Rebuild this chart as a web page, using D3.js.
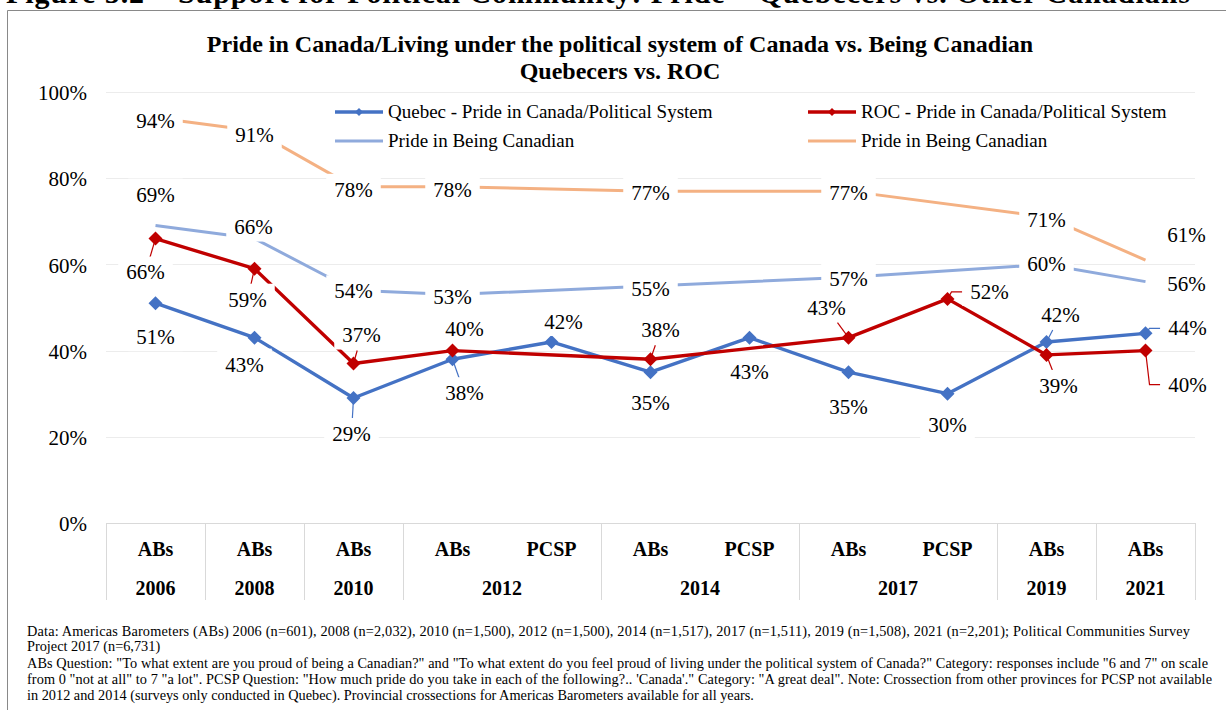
<!DOCTYPE html>
<html>
<head>
<meta charset="utf-8">
<script src="https://cdn.jsdelivr.net/npm/d3@7"></script>
<style>
  html, body { margin: 0; padding: 0; background: #fff; }
  svg { display: block; }
</style>
</head>
<body>
<svg id="chart" width="1226" height="710"></svg>
<script>
// ---- data -------------------------------------------------------------
const surveys = ["ABs", "ABs", "ABs", "ABs", "PCSP", "ABs", "PCSP", "ABs", "PCSP", "ABs", "ABs"];
const years   = ["2006", "2008", "2010", "2012", "2012", "2014", "2014", "2017", "2017", "2019", "2021"];

const quebecPolitical = [51, 43, 29, 38, 42, 35, 43, 35, 30, 42, 44];
const rocPolitical    = [66, 59, 37, 40, null, 38, null, 43, 52, 39, 40];
const quebecBeing     = [69, 66, 54, 53, null, 55, null, 57, null, 60, 56];
const rocBeing        = [94, 91, 78, 78, null, 77, null, 77, null, 71, 61];

const yTicks = [0, 20, 40, 60, 80, 100];

const seriesNames = [
  "Quebec - Pride in Canada/Political System",
  "ROC - Pride in Canada/Political System",
  "Pride in Being Canadian",
  "Pride in Being Canadian"
];

const chartTitle = [
  "Pride in Canada/Living under the political system of Canada vs. Being Canadian",
  "Quebecers vs. ROC"
];
const figureTitle = "Figure 5.2 \u2013 Support for Political Community: Pride \u2013 Quebecers vs. Other Canadians";

const notes = [
  "Data: Americas Barometers (ABs) 2006 (n=601), 2008 (n=2,032), 2010 (n=1,500), 2012 (n=1,500), 2014 (n=1,517), 2017 (n=1,511), 2019 (n=1,508), 2021 (n=2,201); Political Communities Survey",
  "Project 2017 (n=6,731)",
  "ABs Question: \"To what extent are you proud of being a Canadian?\" and \"To what extent do you feel proud of living under the political system of Canada?\" Category: responses include \"6 and 7\" on scale",
  "from 0 \"not at all\" to 7 \"a lot\". PCSP Question: \"How much pride do you take in each of the following?.. 'Canada'.\" Category: \"A great deal\". Note: Crossection from other provinces for PCSP not available",
  "in 2012 and 2014 (surveys only conducted in Quebec). Provincial crossections for Americas Barometers available for all years."
];

// ---- label placement: [dx, dy, leader?] relative to the point ---------
const qcPolLabelPos   = [[0,34],[-10,27],[-2,36,1],[12,34,1],[12,-20],[0,31],[0,34],[0,35],[0,31],[14,-27,1],[42,-5,1]];
const rocPolLabelPos  = [[-10,34,1],[-7,31,1],[8,-28,1],[12,-22],null,[10,-29,1],null,[-22,-30,1],[42,-7,1],[12,31,1],[42,34,1]];
const qcBeingLabelPos = [[0,-31],[-1,-11],[0,1],[0,2],null,[0,3],null,[0,2],null,[0,0],[41,2]];
const rocBeingLabelPos= [[0,3],[0,4],[0,3],[0,3],null,[0,2],null,[0,2],null,[0,3],[41,-25]];

// ---- setup --------------------------------------------------------------
const FONT = "'Liberation Serif', 'Times New Roman', serif";
const svg = d3.select("#chart");

const x = d3.scaleBand().domain(d3.range(surveys.length)).range([106, 1195]).padding(0);
const y = d3.scaleLinear().domain([0, 100]).range([523, 92]);
const cx = i => x(i) + x.bandwidth() / 2;

// figure heading (partly above the page edge)
svg.append("text")
  .attr("x", 6).attr("y", 3)
  .attr("font-family", FONT).attr("font-weight", "bold").attr("font-size", 30)
  .attr("textLength", 1184).attr("lengthAdjust", "spacing")
  .text(figureTitle);

// chart frame
svg.append("path")
  .attr("d", "M7.5,720 V10.5 H1240")
  .attr("fill", "none").attr("stroke", "#898989").attr("stroke-width", 1);

// chart title
svg.append("g").selectAll("text").data(chartTitle).join("text")
  .attr("x", 620).attr("y", (d, i) => 52 + i * 27)
  .attr("text-anchor", "middle")
  .attr("font-family", FONT).attr("font-weight", "bold").attr("font-size", 24)
  .text(d => d);

// gridlines
svg.append("g").selectAll("line").data(yTicks.filter(t => t > 0)).join("line")
  .attr("x1", 106).attr("x2", 1195)
  .attr("y1", d => Math.round(y(d)) + 0.5).attr("y2", d => Math.round(y(d)) + 0.5)
  .attr("stroke", "#ececec").attr("stroke-width", 1);

// y axis
const yAxis = d3.axisLeft(y).tickValues(yTicks).tickFormat(d => d + "%").tickSize(0).tickPadding(0);
const yG = svg.append("g").attr("transform", "translate(87,1)").call(yAxis);
yG.select(".domain").remove();
yG.selectAll("text").attr("font-family", FONT).attr("font-size", 21).attr("fill", "#000");

// category axis table
const axisColor = "#d9d9d9";
const axisG = svg.append("g");
axisG.append("line").attr("x1", 106).attr("x2", 1195).attr("y1", 523.5).attr("y2", 523.5)
  .attr("stroke", axisColor);
// group boundaries between different years
const boundaries = [0];
years.forEach((yr, i) => { if (i > 0 && yr !== years[i - 1]) boundaries.push(i); });
boundaries.push(years.length);
const edge = d => (d < years.length ? x(d) : x.range()[1]);
axisG.selectAll("line.div").data(boundaries).join("line").attr("class", "div")
  .attr("x1", d => Math.round(edge(d)) + 0.5)
  .attr("x2", d => Math.round(edge(d)) + 0.5)
  .attr("y1", 523).attr("y2", 600)
  .attr("stroke", axisColor);
axisG.selectAll("text.survey").data(surveys).join("text").attr("class", "survey")
  .attr("x", (d, i) => cx(i)).attr("y", 556)
  .attr("text-anchor", "middle").attr("font-family", FONT).attr("font-weight", "bold").attr("font-size", 20)
  .text(d => d);
const groups = boundaries.slice(0, -1).map((b, k) => ({ year: years[b], from: b, to: boundaries[k + 1] }));
axisG.selectAll("text.year").data(groups).join("text").attr("class", "year")
  .attr("x", g => (edge(g.from) + edge(g.to)) / 2).attr("y", 595)
  .attr("text-anchor", "middle").attr("font-family", FONT).attr("font-weight", "bold").attr("font-size", 20)
  .text(g => g.year);

// ---- series ------------------------------------------------------------
const series = [
  { values: quebecPolitical, color: "#4472C4", width: 3.4, marker: true,  labels: qcPolLabelPos },
  { values: rocPolitical,    color: "#C00000", width: 3.4, marker: true,  labels: rocPolLabelPos },
  { values: quebecBeing,     color: "#8FAADC", width: 3,   marker: false, labels: qcBeingLabelPos },
  { values: rocBeing,        color: "#F4B183", width: 3,   marker: false, labels: rocBeingLabelPos }
];
series.forEach((s, k) => { s.name = seriesNames[k]; });

const pts = s => s.values.map((v, i) => ({ i, v, lab: s.labels[i] })).filter(d => d.v !== null);

const line = d3.line().x(d => cx(d.i)).y(d => y(d.v));
const diamond = d3.symbol().type(d3.symbolSquare).size(98);

const linesG = svg.append("g");
series.forEach(s => {
  linesG.append("path").datum(pts(s))
    .attr("d", line).attr("fill", "none")
    .attr("stroke", s.color).attr("stroke-width", s.width)
    .attr("stroke-linejoin", "round");
});

// labels: measure text, then leaders, markers, boxes and text
const LABEL_FS = 21, HALF_H = 15;
const labelItems = [];
series.forEach(s => {
  pts(s).forEach(d => {
    const px = cx(d.i), py = y(d.v);
    labelItems.push({ s, px, py, lx: px + d.lab[0], ly: py + d.lab[1], leader: !!d.lab[2], text: d.v + "%" });
  });
});
const measure = svg.append("text").attr("font-family", FONT).attr("font-size", LABEL_FS);
labelItems.forEach(L => { measure.text(L.text); L.hw = measure.node().getComputedTextLength() / 2 + 8; });
measure.remove();

const leaderG = svg.append("g");
labelItems.filter(L => L.leader).forEach(L => {
  const dx = L.px - L.lx, dy = L.py - L.ly;
  let ptsL;
  if (Math.abs(dx) > L.hw) {
    const sgn = Math.sign(L.lx - L.px);
    ptsL = [[L.px, L.py], [L.px + sgn * 4, L.ly], [L.lx - sgn * L.hw, L.ly]];
  } else {
    const t = Math.min(L.hw / Math.abs(dx || 1e-6), HALF_H / Math.abs(dy || 1e-6));
    ptsL = [[L.lx + dx * t, L.ly + dy * t], [L.px, L.py]];
  }
  leaderG.append("path").attr("d", d3.line()(ptsL))
    .attr("fill", "none").attr("stroke", L.s.color).attr("stroke-width", 1.2);
});

const markerG = svg.append("g");
series.filter(s => s.marker).forEach(s => {
  markerG.selectAll(null).data(pts(s)).join("path")
    .attr("d", diamond)
    .attr("transform", d => `translate(${cx(d.i)},${y(d.v)}) rotate(45)`)
    .attr("fill", s.color);
});

const labelG = svg.append("g");
labelG.selectAll("rect").data(labelItems).join("rect")
  .attr("x", L => L.lx - L.hw).attr("y", L => L.ly - HALF_H - 1)
  .attr("width", L => L.hw * 2).attr("height", HALF_H * 2)
  .attr("fill", "#fff");
labelG.selectAll("text").data(labelItems).join("text")
  .attr("x", L => L.lx).attr("y", L => L.ly + LABEL_FS * 0.33)
  .attr("text-anchor", "middle").attr("font-family", FONT).attr("font-size", LABEL_FS)
  .attr("fill", "#000")
  .text(L => L.text);

// ---- legend -------------------------------------------------------------
const legendPos = [[335, 112], [808, 112], [335, 141], [808, 141]];
const legendG = svg.append("g");
series.forEach((s, k) => {
  const [lx, ly] = legendPos[k];
  legendG.append("line").attr("x1", lx).attr("x2", lx + 48).attr("y1", ly).attr("y2", ly)
    .attr("stroke", s.color).attr("stroke-width", s.width);
  if (s.marker) {
    legendG.append("path").attr("d", d3.symbol().type(d3.symbolSquare).size(32)())
      .attr("transform", `translate(${lx + 24},${ly}) rotate(45)`).attr("fill", s.color);
  }
  legendG.append("text").attr("x", lx + 53).attr("y", ly + 19 * 0.33)
    .attr("font-family", FONT).attr("font-size", 19).attr("fill", "#000")
    .text(s.name);
});

// ---- notes --------------------------------------------------------------
const noteY = [636, 651, 668, 684, 700];
const noteFit = [1163, null, 1181, 1185, null];
const notesG = svg.append("g");
notes.forEach((t, i) => {
  const el = notesG.append("text").attr("x", 27).attr("y", noteY[i])
    .attr("font-family", FONT).attr("font-size", 14.3).attr("fill", "#000")
    .text(t);
  if (noteFit[i]) el.attr("textLength", noteFit[i]).attr("lengthAdjust", "spacing");
});
</script>
</body>
</html>
